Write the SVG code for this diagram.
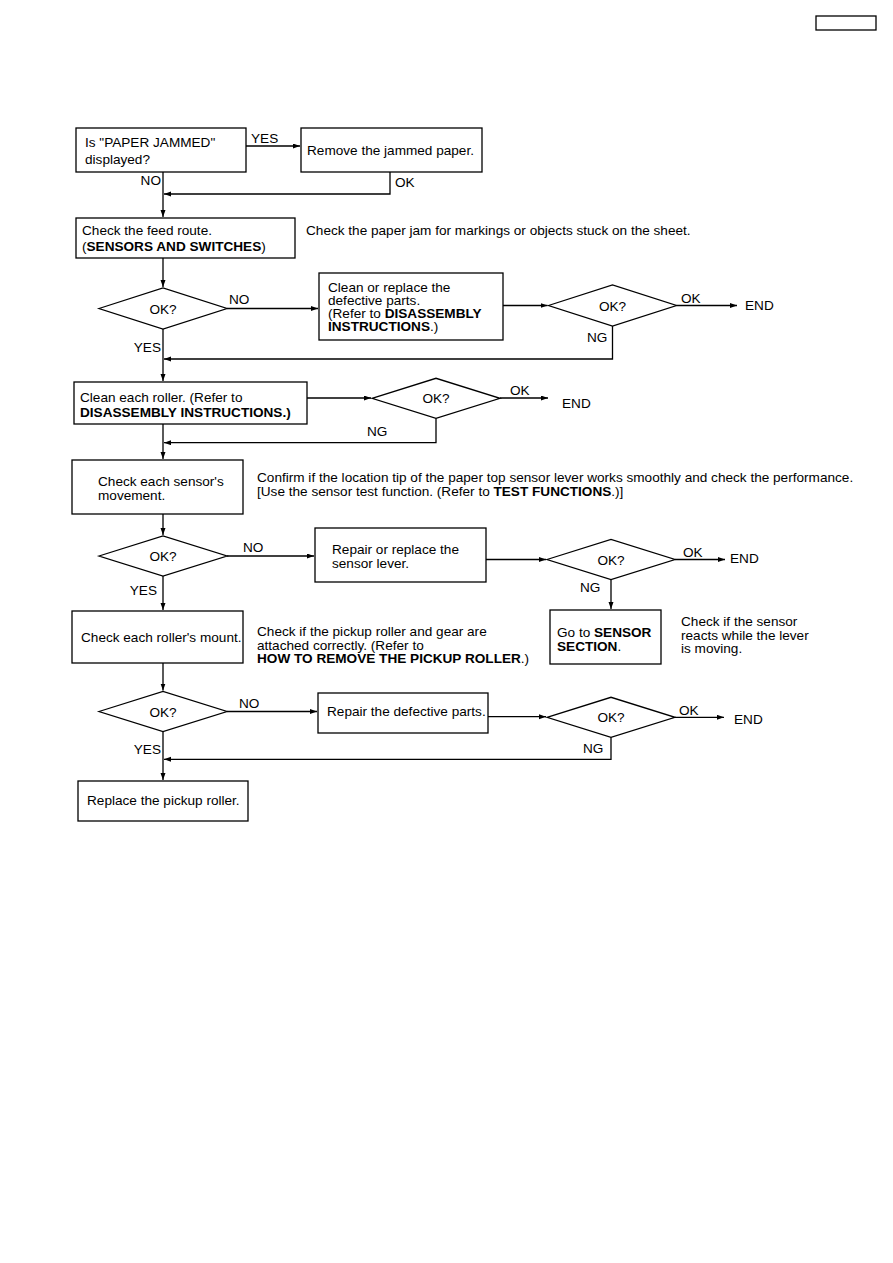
<svg xmlns="http://www.w3.org/2000/svg" width="893" height="1263" viewBox="0 0 893 1263">
<style>
text{font-family:"Liberation Sans",Arial,sans-serif;font-size:13.6px;fill:#000}
.b{font-weight:bold}
.box{fill:#fff;stroke:#000;stroke-width:1.3}
.c{fill:none;stroke:#000;stroke-width:1.3}
.mid{text-anchor:middle}
.end{text-anchor:end}
</style>
<defs>
<marker id="ah" markerUnits="userSpaceOnUse" markerWidth="8" markerHeight="6" refX="7" refY="2.5" orient="auto"><path d="M0,0 L7,2.5 L0,5 z" fill="#000"/></marker>
</defs>
<rect width="893" height="1263" fill="#fff"/>
<g id="pagebox"><rect x="816" y="16" width="60" height="14" class="box" stroke-width="1.5"/></g>
<g id="connectors">
<path class="c" d="M246,146 H300" marker-end="url(#ah)"/>
<text x="251" y="143">YES</text>
<path class="c" d="M163,172 V217" marker-end="url(#ah)"/>
<text x="161" y="185" class="end">NO</text>
<path class="c" d="M390,172 V194 H164" marker-end="url(#ah)"/>
<text x="395" y="187">OK</text>
<path class="c" d="M163,258 V287" marker-end="url(#ah)"/>
<path class="c" d="M227,308.5 H318" marker-end="url(#ah)"/>
<text x="229" y="304">NO</text>
<path class="c" d="M503,305.5 H547.5" marker-end="url(#ah)"/>
<path class="c" d="M676.5,305.5 H737" marker-end="url(#ah)"/>
<text x="681" y="303">OK</text>
<text x="745" y="310">END</text>
<path class="c" d="M612.5,326 V359 H164" marker-end="url(#ah)"/>
<text x="587" y="342">NG</text>
<path class="c" d="M163,329 V381" marker-end="url(#ah)"/>
<text x="161" y="352" class="end">YES</text>
<path class="c" d="M307,398 H371" marker-end="url(#ah)"/>
<path class="c" d="M500,398 H548" marker-end="url(#ah)"/>
<text x="510" y="395">OK</text>
<text x="562" y="408">END</text>
<path class="c" d="M436,418.3 V442.7 H164" marker-end="url(#ah)"/>
<text x="367" y="436">NG</text>
<path class="c" d="M163,424 V459" marker-end="url(#ah)"/>
<path class="c" d="M163,514 V535" marker-end="url(#ah)"/>
<path class="c" d="M227,556 H314" marker-end="url(#ah)"/>
<text x="243" y="552">NO</text>
<path class="c" d="M486,559.5 H546" marker-end="url(#ah)"/>
<path class="c" d="M675,559.5 H725" marker-end="url(#ah)"/>
<text x="683" y="557">OK</text>
<text x="730" y="563">END</text>
<path class="c" d="M611,579.5 V609" marker-end="url(#ah)"/>
<text x="580" y="592">NG</text>
<path class="c" d="M163,576 V610" marker-end="url(#ah)"/>
<text x="157" y="595" class="end">YES</text>
<path class="c" d="M163,663 V690.5" marker-end="url(#ah)"/>
<path class="c" d="M227,711.5 H317" marker-end="url(#ah)"/>
<text x="239" y="708">NO</text>
<path class="c" d="M488,716.7 H546" marker-end="url(#ah)"/>
<path class="c" d="M675,717.3 H724" marker-end="url(#ah)"/>
<text x="679" y="714.5">OK</text>
<text x="734" y="724">END</text>
<path class="c" d="M611,737.3 V759.3 H164" marker-end="url(#ah)"/>
<text x="583" y="753">NG</text>
<path class="c" d="M163,731.5 V780" marker-end="url(#ah)"/>
<text x="161" y="754" class="end">YES</text>
</g>
<g id="n1"><rect x="76" y="128" width="170" height="44" class="box"/><text x="85" y="147">Is "PAPER JAMMED"</text><text x="85" y="164">displayed?</text></g>
<g id="n2"><rect x="301" y="128" width="181" height="44" class="box"/><text x="307" y="155">Remove the jammed paper.</text></g>
<g id="n3"><rect x="76" y="218" width="219" height="40" class="box"/><text x="82" y="235">Check the feed route.</text><text x="82" y="251">(<tspan class="b">SENSORS AND SWITCHES</tspan>)</text></g>
<g id="note1"><text x="306" y="235">Check the paper jam for markings or objects stuck on the sheet.</text></g>
<g id="d1"><path d="M99,308.5 L163,288 L227,308.5 L163,329 Z" class="box"/><text x="163" y="313.5" class="mid">OK?</text></g>
<g id="n4"><rect x="319" y="273" width="184" height="67" class="box"/><text x="328" y="291.5">Clean or replace the</text><text x="328" y="304.5">defective parts.</text><text x="328" y="317.5">(Refer to <tspan class="b">DISASSEMBLY</tspan></text><text x="328" y="331"><tspan class="b">INSTRUCTIONS</tspan>.)</text></g>
<g id="d2"><path d="M548.5,305.5 L612.5,285 L676.5,305.5 L612.5,326 Z" class="box"/><text x="612.5" y="310.5" class="mid">OK?</text></g>
<g id="n5"><rect x="74" y="382" width="233" height="42" class="box"/><text x="80" y="402">Clean each roller. (Refer to</text><text x="80" y="416.5" class="b">DISASSEMBLY INSTRUCTIONS.)</text></g>
<g id="d3"><path d="M372,398.3 L436,378.3 L500,398.3 L436,418.3 Z" class="box"/><text x="436" y="403.3" class="mid">OK?</text></g>
<g id="n6"><rect x="72" y="460" width="171" height="54" class="box"/><text x="98" y="486">Check each sensor's</text><text x="98" y="499.5">movement.</text></g>
<g id="note2"><text x="257" y="482">Confirm if the location tip of the paper top sensor lever works smoothly and check the performance.</text><text x="257" y="496">[Use the sensor test function. (Refer to <tspan class="b">TEST FUNCTIONS</tspan>.)]</text></g>
<g id="d4"><path d="M99,556 L163,536 L227,556 L163,576 Z" class="box"/><text x="163" y="561" class="mid">OK?</text></g>
<g id="n7"><rect x="315" y="528" width="171" height="54" class="box"/><text x="332" y="554">Repair or replace the</text><text x="332" y="567.5">sensor lever.</text></g>
<g id="d5"><path d="M547,559.5 L611,539.5 L675,559.5 L611,579.5 Z" class="box"/><text x="611" y="564.5" class="mid">OK?</text></g>
<g id="n8"><rect x="550" y="610" width="111" height="54" class="box"/><text x="557" y="637">Go to <tspan class="b">SENSOR</tspan></text><text x="557" y="650.5" class="b">SECTION<tspan font-weight="normal">.</tspan></text></g>
<g id="note3"><text x="681" y="626">Check if the sensor</text><text x="681" y="639.5">reacts while the lever</text><text x="681" y="653">is moving.</text></g>
<g id="n9"><rect x="72" y="611" width="171" height="52" class="box"/><text x="81" y="642">Check each roller's mount.</text></g>
<g id="note4"><text x="257" y="636">Check if the pickup roller and gear are</text><text x="257" y="649.5">attached correctly. (Refer to</text><text x="257" y="663"><tspan class="b">HOW TO REMOVE THE PICKUP ROLLER</tspan>.)</text></g>
<g id="d6"><path d="M99,711.5 L163,691.5 L227,711.5 L163,731.5 Z" class="box"/><text x="163" y="716.5" class="mid">OK?</text></g>
<g id="n10"><rect x="318" y="693" width="170" height="40" class="box"/><text x="327" y="716">Repair the defective parts.</text></g>
<g id="d7"><path d="M547,717.3 L611,697.3 L675,717.3 L611,737.3 Z" class="box"/><text x="611" y="722.3" class="mid">OK?</text></g>
<g id="n11"><rect x="78" y="781" width="170" height="40" class="box"/><text x="87" y="805">Replace the pickup roller.</text></g>
</svg>
